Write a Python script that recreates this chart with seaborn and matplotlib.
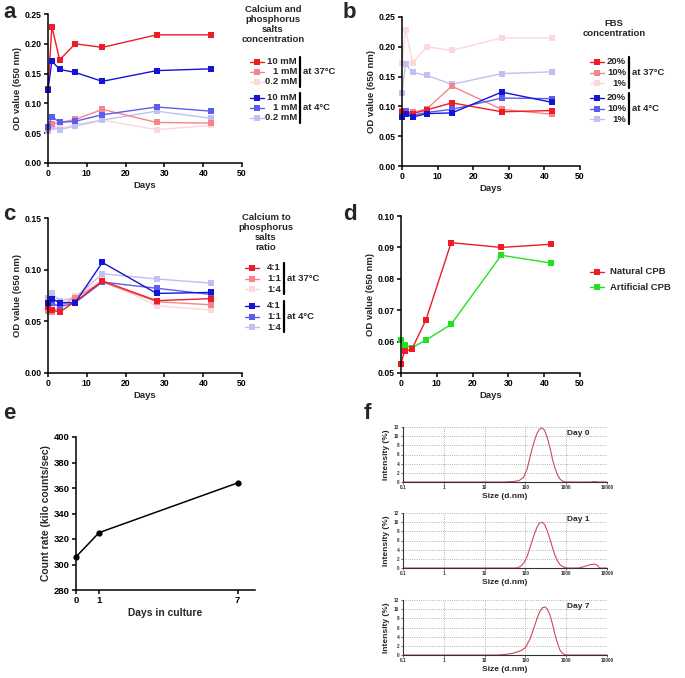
import numpy as np
import pandas as pd
import matplotlib
matplotlib.use("Agg")
import matplotlib.pyplot as plt
from matplotlib.lines import Line2D
import seaborn as sns

# ---- data ----
days = [0, 1, 3, 7, 14, 28, 42]

# a: calcium and phosphorus salts concentration
a_37_10mM = [0.125, 0.229, 0.173, 0.200, 0.194, 0.215, 0.215]
a_37_1mM = [0.057, 0.065, 0.068, 0.073, 0.090, 0.068, 0.067]
a_37_02mM = [0.055, 0.062, 0.058, 0.064, 0.072, 0.056, 0.063]
a_4_10mM = [0.123, 0.171, 0.157, 0.152, 0.137, 0.155, 0.158]
a_4_1mM = [0.060, 0.078, 0.068, 0.070, 0.081, 0.094, 0.087]
a_4_02mM = [0.054, 0.060, 0.056, 0.062, 0.072, 0.087, 0.075]

# b: FBS concentration
b_37_20 = [0.090, 0.088, 0.088, 0.094, 0.106, 0.091, 0.093]
b_37_10 = [0.093, 0.092, 0.090, 0.096, 0.134, 0.095, 0.087]
b_37_1 = [0.172, 0.229, 0.173, 0.200, 0.194, 0.215, 0.215]
b_4_20 = [0.082, 0.088, 0.082, 0.088, 0.089, 0.124, 0.107]
b_4_10 = [0.085, 0.093, 0.085, 0.090, 0.095, 0.114, 0.113]
b_4_1 = [0.123, 0.171, 0.157, 0.152, 0.137, 0.155, 0.158]

# c: calcium to phosphorus ratio
c_37_41 = [0.064, 0.061, 0.059, 0.069, 0.089, 0.070, 0.072]
c_37_11 = [0.060, 0.059, 0.064, 0.073, 0.088, 0.069, 0.066]
c_37_14 = [0.062, 0.064, 0.066, 0.075, 0.090, 0.065, 0.061]
c_4_41 = [0.068, 0.072, 0.068, 0.068, 0.107, 0.077, 0.078]
c_4_11 = [0.066, 0.068, 0.064, 0.068, 0.088, 0.082, 0.076]
c_4_14 = [0.073, 0.077, 0.070, 0.073, 0.096, 0.091, 0.087]

# d: natural vs artificial CPB
d_natural = [0.053, 0.057, 0.0575, 0.067, 0.0915, 0.090, 0.091]
d_artificial = [0.0605, 0.059, 0.058, 0.0605, 0.0655, 0.0875, 0.085]

# e: count rate
e_days = [0, 1, 7]
e_rate = [306, 325, 364]

# f: DLS size distributions
f_size_0 = [0.1, 30, 50, 70, 90, 110, 130, 160, 190, 220, 255, 295, 340, 400, 460, 530, 615, 710, 820, 950, 4000, 5000, 6000, 10000]
f_int_0 = [0, 0, 0.1, 0.3, 1.0, 2.8, 5.5, 8.5, 10.5, 11.5, 11.8, 11.3, 9.8, 7.5, 5.0, 3.0, 1.5, 0.6, 0.2, 0, 0, 0.1, 0, 0]
f_size_1 = [0.1, 60, 75, 90, 110, 130, 160, 190, 220, 255, 295, 340, 400, 460, 530, 615, 710, 820, 950, 1100, 2000, 2500, 3200, 4000, 5000, 5800, 6500, 10000]
f_int_1 = [0, 0, 0.3, 1.0, 2.5, 4.5, 7.0, 8.8, 9.8, 10.0, 9.5, 8.2, 6.3, 4.5, 2.8, 1.5, 0.7, 0.3, 0.1, 0, 0, 0.2, 0.5, 0.75, 0.85, 0.6, 0, 0]
f_size_7 = [0.1, 20, 30, 45, 60, 80, 100, 130, 160, 190, 220, 260, 300, 340, 400, 460, 530, 615, 710, 820, 950, 1100, 10000]
f_int_7 = [0, 0, 0.1, 0.3, 0.6, 1.0, 1.6, 3.5, 5.8, 7.8, 9.3, 10.3, 10.5, 10.1, 8.7, 6.8, 4.5, 2.5, 1.0, 0.3, 0.05, 0, 0]

RED, PINK, LPINK = "#ee1c24", "#f4868b", "#fbd8da"
BLUE, MBLUE, LBLUE = "#1414d8", "#5c5cee", "#c0c0f2"
GREEN = "#22e022"

sns.set_style("ticks")
plt.rcParams["font.family"] = ["Liberation Sans", "DejaVu Sans"]
plt.rcParams["font.weight"] = "bold"

W, H = 685, 678
fig = plt.figure(figsize=(W / 100, H / 100), dpi=100)


def fx(x):
    return x / W


def fy(y):
    return 1 - y / H


def add_ax(l, t, r, b):
    return fig.add_axes([fx(l), fy(b), (r - l) / W, (b - t) / H])


def draw_lines(ax, series, names, colors):
    df = pd.DataFrame({
        "day": days * len(series),
        "od": np.concatenate(series),
        "group": np.repeat(names, len(days)),
    })
    sns.lineplot(data=df, x="day", y="od", hue="group", hue_order=names,
                 palette=dict(zip(names, colors)), marker="s", markersize=4.2,
                 markeredgewidth=0, linewidth=1.0, legend=False, ax=ax,
                 clip_on=False)


def prism(ax, xlim, xticks, ylim, yticks, fmt, xlabel, ylabel, size=6.2):
    ax.set_xlim(*xlim)
    ax.set_ylim(*ylim)
    ax.set_xticks(xticks)
    ax.set_yticks(yticks)
    ax.set_yticklabels([fmt.format(v) for v in yticks])
    sns.despine(ax=ax)
    for s in ("left", "bottom"):
        ax.spines[s].set_linewidth(1.1)
        ax.spines[s].set_color("black")
    ax.tick_params(width=1.1, length=3, labelsize=size, pad=1.5, colors="black")
    for lab in ax.get_xticklabels() + ax.get_yticklabels():
        lab.set_fontweight("bold")
    ax.set_xlabel(xlabel, fontsize=size + 0.6, fontweight="bold", labelpad=2)
    ax.set_ylabel(ylabel, fontsize=size + 0.6, fontweight="bold", labelpad=2)


def legend_group(x0, rows, labels, colors, tag, bar_x, fs=6.8):
    for y, lab, c in zip(rows, labels, colors):
        fig.add_artist(Line2D([fx(x0), fx(x0 + 14)], [fy(y), fy(y)], color=c,
                              lw=1.0, transform=fig.transFigure))
        fig.add_artist(Line2D([fx(x0 + 7)], [fy(y)], marker="s", ms=4.2, mew=0,
                              color=c, transform=fig.transFigure))
        fig.text(fx(bar_x - 3), fy(y), lab, ha="right", va="center",
                 fontsize=fs, fontweight="bold")
    fig.add_artist(Line2D([fx(bar_x), fx(bar_x)], [fy(rows[0] - 5), fy(rows[-1] + 5)],
                          color="black", lw=1.6, transform=fig.transFigure))
    fig.text(fx(bar_x + 3), fy((rows[0] + rows[-1]) / 2), tag, ha="left",
             va="center", fontsize=fs, fontweight="bold")


def letter(x, y, s):
    fig.text(fx(x), fy(y), s, fontsize=16, fontweight="bold", ha="left", va="center")


od_label = "OD value (650 nm)"

# ---- a ----
ax_a = add_ax(48, 14, 242, 163)
draw_lines(ax_a, [a_37_02mM, a_4_02mM, a_37_1mM, a_4_1mM, a_37_10mM, a_4_10mM],
           ["37_0.2", "4_0.2", "37_1", "4_1", "37_10", "4_10"],
           [LPINK, LBLUE, PINK, MBLUE, RED, BLUE])
prism(ax_a, (0, 50), range(0, 51, 10), (0, 0.25), np.arange(0, 0.26, 0.05), "{:.2f}", "Days", od_label)
letter(3, 12, "a")
fig.text(fx(273), fy(5), "Calcium and\nphosphorus\nsalts\nconcentration", ha="center", va="top",
         fontsize=6.8, fontweight="bold", linespacing=1.15)
legend_group(250, [62, 72, 82], ["10 mM", "1 mM", "0.2 mM"], [RED, PINK, LPINK], "at 37°C", 300)
legend_group(250, [98, 108, 118], ["10 mM", "1 mM", "0.2 mM"], [BLUE, MBLUE, LBLUE], "at 4°C", 300)

# ---- b ----
ax_b = add_ax(402, 17, 580, 166)
draw_lines(ax_b, [b_37_1, b_4_1, b_37_10, b_4_10, b_37_20, b_4_20],
           ["37_1", "4_1", "37_10", "4_10", "37_20", "4_20"],
           [LPINK, LBLUE, PINK, MBLUE, RED, BLUE])
prism(ax_b, (0, 50), range(0, 51, 10), (0, 0.25), np.arange(0, 0.26, 0.05), "{:.2f}", "Days", od_label)
letter(343, 12, "b")
fig.text(fx(614), fy(19), "FBS\nconcentration", ha="center", va="top",
         fontsize=6.8, fontweight="bold", linespacing=1.15)
legend_group(590, [62, 72.5, 83], ["20%", "10%", "1%"], [RED, PINK, LPINK], "at 37°C", 629)
legend_group(590, [98, 108.5, 119], ["20%", "10%", "1%"], [BLUE, MBLUE, LBLUE], "at 4°C", 629)

# ---- c ----
ax_c = add_ax(48, 218, 242, 373)
draw_lines(ax_c, [c_37_14, c_4_14, c_37_11, c_4_11, c_37_41, c_4_41],
           ["37_14", "4_14", "37_11", "4_11", "37_41", "4_41"],
           [LPINK, LBLUE, PINK, MBLUE, RED, BLUE])
prism(ax_c, (0, 50), range(0, 51, 10), (0, 0.15), np.arange(0, 0.16, 0.05), "{:.2f}", "Days", od_label)
letter(3, 215, "c")
fig.text(fx(266), fy(213), "Calcium to\nphosphorus\nsalts\nratio", ha="center", va="top",
         fontsize=6.8, fontweight="bold", linespacing=1.15)
legend_group(245, [268, 278.5, 289], ["4:1", "1:1", "1:4"], [RED, PINK, LPINK], "at 37°C", 284)
legend_group(245, [306, 316.5, 327], ["4:1", "1:1", "1:4"], [BLUE, MBLUE, LBLUE], "at 4°C", 284)

# ---- d ----
ax_d = add_ax(401, 216, 580, 373)
draw_lines(ax_d, [d_artificial, d_natural], ["Artificial CPB", "Natural CPB"], [GREEN, RED])
prism(ax_d, (0, 50), range(0, 51, 10), (0.05, 0.10), np.arange(0.05, 0.101, 0.01), "{:.2f}", "Days", od_label)
letter(343, 215, "d")
for y, lab, c in [(272, "Natural CPB", RED), (287, "Artificial CPB", GREEN)]:
    fig.add_artist(Line2D([fx(590), fx(604)], [fy(y), fy(y)], color=c, lw=1.0, transform=fig.transFigure))
    fig.add_artist(Line2D([fx(597)], [fy(y)], marker="s", ms=4.2, mew=0, color=c, transform=fig.transFigure))
    fig.text(fx(610), fy(y), lab, ha="left", va="center", fontsize=6.8, fontweight="bold")

# ---- e ----
ax_e = add_ax(76, 437, 255, 590)
sns.lineplot(x=e_days, y=e_rate, color="black", marker="o", markersize=4.5,
             markeredgewidth=0, linewidth=1.1, ax=ax_e, clip_on=False)
prism(ax_e, (0, 7.75), e_days, (280, 400), range(280, 401, 20), "{:d}",
      "Days in culture", "Count rate (kilo counts/sec)", size=6.8)
letter(3, 414, "e")

# ---- f ----
letter(364, 414, "f")
f_boxes = [(427, 482), (513, 568), (600, 655)]
f_curves = [(f_size_0, f_int_0, "Day 0"), (f_size_1, f_int_1, "Day 1"), (f_size_7, f_int_7, "Day 7")]
for (t, b), (sz, it, tag) in zip(f_boxes, f_curves):
    ax = add_ax(403, t, 607, b)
    ax.set_xscale("log")
    sns.lineplot(x=sz, y=it, color="#cc4a5a", linewidth=0.8, ax=ax)
    ax.set_xlim(0.1, 10000)
    ax.set_ylim(0, 12)
    ax.set_xticks([0.1, 1, 10, 100, 1000, 10000])
    ax.set_xticklabels(["0.1", "1", "10", "100", "1000", "10000"])
    ax.set_yticks(range(0, 13, 2))
    ax.minorticks_off()
    ax.grid(True, color="#9a9a9a", linestyle=":", linewidth=0.6)
    for s in ("top", "right"):
        ax.spines[s].set_visible(False)
    for s in ("left", "bottom"):
        ax.spines[s].set_color("#333333")
        ax.spines[s].set_linewidth(0.8)
    ax.tick_params(labelsize=3.4, length=1.5, width=0.5, pad=1, colors="#333333")
    ax.set_xlabel("Size (d.nm)", fontsize=6, fontweight="bold", labelpad=2)
    ax.set_ylabel("Intensity (%)", fontsize=6, fontweight="bold", labelpad=3)
    ax.text(0.86, 0.88, tag, transform=ax.transAxes, fontsize=6, fontweight="bold",
            ha="center", va="center")

fig.savefig("out.png", dpi=100)
